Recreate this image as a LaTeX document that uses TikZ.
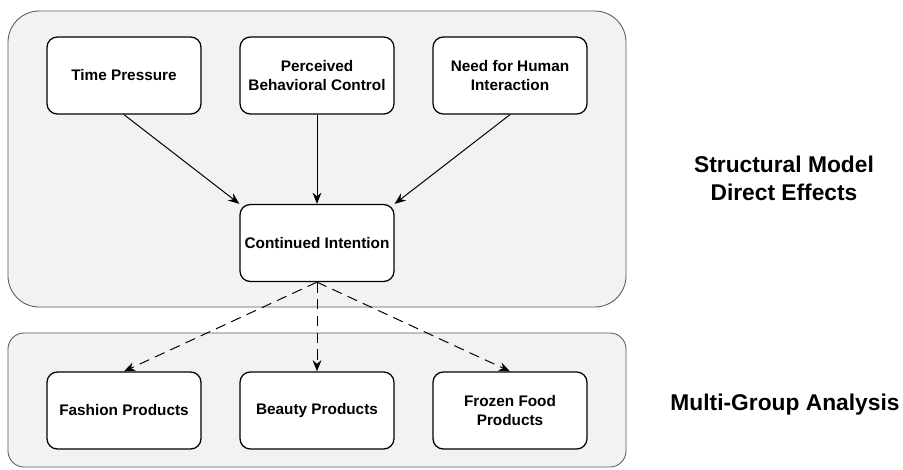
\documentclass[tikz,border=0pt]{standalone}
\usepackage{fontspec}
\setmainfont{Liberation Sans}
\usetikzlibrary{arrows.meta}

\tikzset{
	panel/.style={draw=black!65, line width=0.6pt, fill=black!5},
	factor/.style={draw=black, line width=0.9pt, fill=white, rounded corners=0.26cm,
		minimum width=3.85cm, minimum height=1.925cm, inner sep=0pt, align=center,
		font=\fontsize{10.9}{13.5}\selectfont\bfseries},
	effect/.style={line width=0.7pt, -{Stealth[length=2.8mm, width=2.2mm]}},
	group/.style={effect, dashed, dash pattern=on 2.6mm off 1.6mm},
	caption/.style={align=center, font=\fontsize{16.2}{19.9}\selectfont\bfseries}
}

\begin{document}
\begin{tikzpicture}[x=0.025cm, y=-0.025cm]
		%%%%% START %%%%%
		\useasboundingbox (0, 0) rectangle (903, 469);
		
		% the two shaded panels
		\draw[panel, rounded corners=0.78cm] (8, 11) rectangle (626, 307);
		\draw[panel, rounded corners=0.4cm] (8, 333) rectangle (626, 467);
		
		% direct effects
		\node[factor] (tp) at (124, 75.5) {Time Pressure};
		\node[factor] (pbc) at (317, 75.5) {Perceived\\Behavioral Control};
		\node[factor] (nhi) at (510, 75.5) {Need for Human\\Interaction};
		\node[factor] (ci) at (317, 243) {Continued Intention};
		
		\draw[effect] (tp.south) -- (ci.north west);
		\draw[effect] (pbc.south) -- (ci.north);
		\draw[effect] (nhi.south) -- (ci.north east);
		
		% product groups
		\node[factor] (fashion) at (124, 410.5) {Fashion Products};
		\node[factor] (beauty) at (317, 410.5) {Beauty Products};
		\node[factor] (frozen) at (510, 410.5) {Frozen Food\\Products};
		
		\draw[group] (ci.south) -- (fashion.north);
		\draw[group] (ci.south) -- (beauty.north);
		\draw[group] (ci.south) -- (frozen.north);
		
		% panel captions
		\node[caption] (direct) at (784, 178) {Structural Model\\Direct Effects};
		\node[caption] (mga) at (785, 405) {Multi-Group Analysis};
		%%%%% END %%%%%
\end{tikzpicture}
\end{document}
